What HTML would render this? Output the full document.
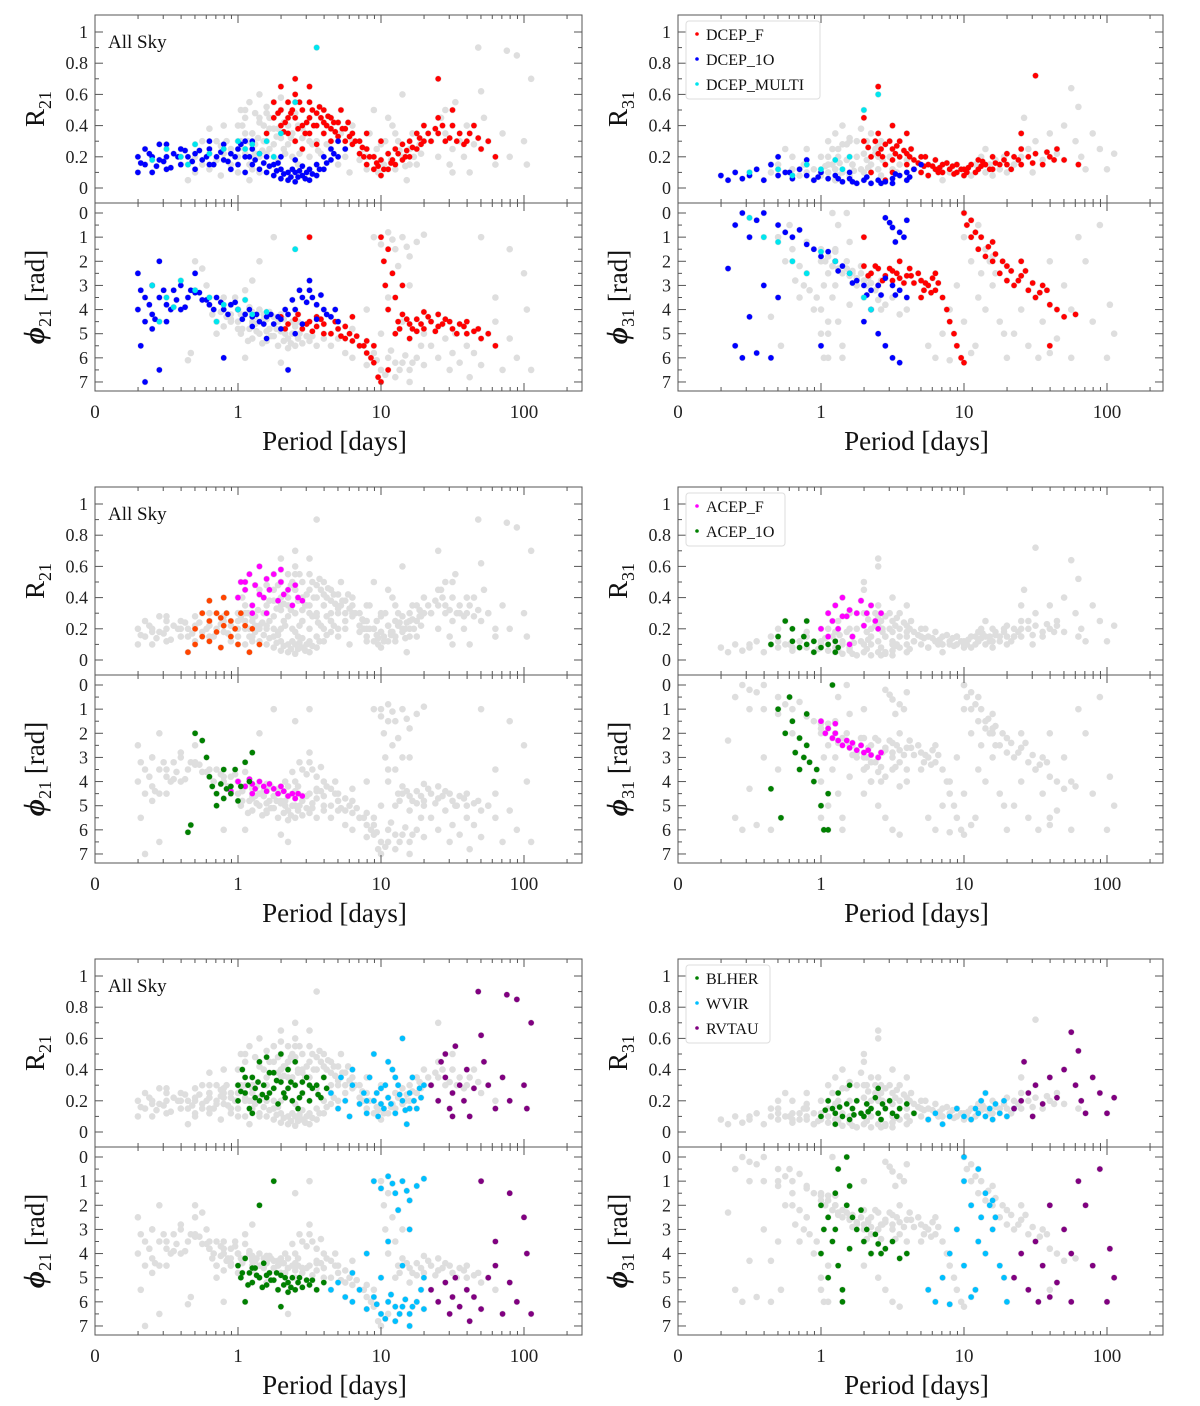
<!DOCTYPE html>
<html><head><meta charset="utf-8"><style>
html,body{margin:0;padding:0;background:#fff}
svg{display:block;font-family:"Liberation Serif","DejaVu Serif",serif}
</style></head><body>
<svg id="chart" width="1200" height="1406" viewBox="0 0 1200 1406" xmlns="http://www.w3.org/2000/svg"></svg>
<script>
// ===== data: [log10(Period), value] =====
const dcepF_R21=[[0.25,.45],[0.3,.5],[0.3,.4],[0.35,.55],[0.35,.35],[0.4,.6],[0.4,.45],[0.4,.3],[0.45,.5],[0.45,.4],[0.5,.55],[0.5,.45],[0.5,.35],[0.55,.48],[0.55,.4],[0.6,.5],[0.6,.42],[0.6,.35],[0.65,.45],[0.65,.38],[0.7,.42],[0.7,.33],[0.72,.5],[0.75,.38],[0.75,.3],[0.8,.35],[0.8,.28],[0.85,.3],[0.85,.22],[0.9,.25],[0.9,.15],[0.95,.2],[0.95,.12],[1.0,.18],[1.0,.08],[1.05,.22],[1.05,.12],[1.1,.25],[1.1,.15],[1.15,.28],[1.15,.18],[1.2,.3],[1.2,.2],[1.25,.35],[1.25,.25],[1.3,.4],[1.3,.3],[1.35,.3],[1.4,.45],[1.4,.35],[1.45,.3],[1.5,.4],[1.5,.5],[1.55,.35],[1.6,.3],[1.65,.4],[1.7,.25],[1.8,.2],[0.4,.7],[0.3,.65],[0.5,.65],[0.2,.35],[0.25,.55],[0.45,.25],[0.55,.28],[0.65,.3],[0.9,.35],[1.0,.3],[1.4,.7],[0.35,.45],[0.42,.38],[0.48,.42],[0.58,.45],[0.62,.4],[0.68,.36],[0.52,.5],[0.38,.5],[0.33,.42],[0.78,.33],[0.88,.2],[0.98,.14],[1.08,.18],[1.18,.24],[1.28,.28],[1.38,.38],[1.48,.32],[1.58,.28],[1.62,.35],[1.75,.3],[0.28,.48],[0.32,.36],[0.37,.48],[0.43,.55],[0.47,.35],[0.53,.4],[0.57,.52],[0.63,.46],[0.67,.42],[0.73,.38],[0.77,.42],[0.82,.3],[0.87,.26],[0.92,.2],[0.97,.16],[1.02,.12],[1.07,.16],[1.12,.22],[1.17,.2],[1.22,.26],[1.27,.32],[1.33,.35],[1.43,.4],[1.53,.3],[1.68,.32]];
const dcep1O_R21=[[-0.7,.2],[-0.7,.1],[-0.65,.25],[-0.65,.15],[-0.6,.2],[-0.6,.1],[-0.55,.28],[-0.55,.18],[-0.5,.2],[-0.5,.12],[-0.45,.22],[-0.4,.15],[-0.4,.25],[-0.35,.2],[-0.3,.12],[-0.3,.22],[-0.25,.18],[-0.2,.25],[-0.2,.15],[-0.15,.2],[-0.1,.28],[-0.1,.18],[-0.05,.22],[0,.25],[0,.15],[0.05,.3],[0.05,.2],[0.1,.25],[0.1,.15],[0.15,.22],[0.15,.12],[0.2,.2],[0.2,.1],[0.25,.15],[0.25,.08],[0.3,.12],[0.3,.06],[0.35,.1],[0.35,.05],[0.4,.1],[0.4,.04],[0.45,.08],[0.45,.14],[0.5,.12],[0.5,.05],[0.55,.15],[0.55,.08],[0.6,.2],[0.6,.12],[0.65,.25],[0.65,.18],[0.7,.3],[0.7,.2],[0.75,.25],[-0.5,.28],[-0.2,.3],[0.05,.1],[0.3,.2],[0.4,.18],[-0.05,.12],[0.1,.3],[0.42,.07],[0.38,.12],[0.48,.1],[0.28,.16],[-0.68,.16],[-0.62,.22],[-0.57,.14],[-0.52,.17],[-0.47,.13],[-0.42,.2],[-0.37,.24],[-0.32,.17],[-0.27,.24],[-0.22,.2],[-0.17,.15],[-0.12,.23],[-0.07,.17],[-0.02,.2],[0.02,.28],[0.08,.2],[0.12,.18],[0.18,.16],[0.22,.14],[0.27,.11],[0.32,.09],[0.37,.07],[0.43,.11],[0.47,.06],[0.52,.09],[0.57,.12],[0.62,.16],[0.67,.22]];
const multi_R21=[[-0.5,.25],[-0.4,.2],[-0.3,.28],[-0.2,.22],[-0.1,.25],[0,.3],[0.05,.25],[0.1,.28],[0.15,.22],[0.2,.3],[-0.6,.18],[0.25,.2],[0.4,.55],[0.55,.9],[0.3,.35],[-0.35,.15]];
const dcepF_R31=[[0.3,.3],[0.35,.2],[0.4,.35],[0.4,.22],[0.45,.28],[0.45,.15],[0.5,.25],[0.5,.18],[0.55,.3],[0.55,.2],[0.6,.22],[0.6,.15],[0.65,.18],[0.65,.12],[0.7,.2],[0.7,.1],[0.75,.15],[0.75,.08],[0.8,.12],[0.8,.18],[0.85,.1],[0.85,.15],[0.9,.12],[0.95,.1],[0.95,.15],[1.0,.12],[1.0,.08],[1.05,.15],[1.1,.12],[1.1,.18],[1.15,.15],[1.2,.2],[1.2,.12],[1.25,.15],[1.3,.22],[1.3,.15],[1.35,.2],[1.4,.25],[1.4,.15],[1.45,.2],[1.5,.22],[1.55,.15],[1.6,.2],[1.65,.25],[1.7,.18],[1.8,.15],[0.3,.45],[0.5,.4],[0.4,.65],[0.6,.35],[1.4,.35],[1.5,.72],[0.5,.1],[0.35,.1],[0.45,.05],[0.42,.25],[0.52,.22],[0.62,.2],[0.72,.14],[0.82,.1],[0.92,.14],[1.02,.1],[1.12,.14],[1.22,.16],[0.33,.26],[0.38,.3],[0.43,.2],[0.48,.3],[0.53,.27],[0.58,.24],[0.63,.25],[0.68,.16],[0.73,.2],[0.78,.14],[0.83,.13],[0.88,.16],[0.93,.09],[0.98,.12],[1.03,.13],[1.08,.1],[1.13,.17],[1.18,.12],[1.28,.18],[1.33,.12],[1.38,.18],[1.48,.16],[1.58,.23],[1.63,.18]];
const dcep1O_R31=[[-0.7,.08],[-0.65,.05],[-0.6,.1],[-0.55,.06],[-0.5,.08],[-0.45,.12],[-0.4,.05],[-0.35,.15],[-0.3,.08],[-0.25,.1],[-0.2,.06],[-0.15,.12],[-0.1,.08],[-0.05,.05],[0,.1],[0.05,.06],[0.1,.08],[0.15,.04],[0.2,.06],[0.25,.03],[0.3,.05],[0.35,.03],[0.4,.05],[0.45,.04],[0.5,.06],[0.55,.08],[0.6,.1],[0.65,.12],[0.7,.15],[-0.3,.2],[-0.1,.18],[0.5,.03],[0.2,.1],[0.6,.05],[0.12,.06],[0.22,.04],[0.32,.07],[0.42,.03],[0.52,.09],[0.62,.07],[-0.02,.07],[-0.22,.1]];
const multi_R31=[[-0.5,.1],[-0.3,.12],[-0.1,.15],[0,.12],[0.1,.18],[0.2,.2],[0.3,.5],[0.4,.6],[-0.2,.08],[0.15,.12]];
const dcepF_P21=[[0.3,4.3],[0.35,4.6],[0.4,4.4],[0.45,4.8],[0.5,4.5],[0.55,4.7],[0.6,4.6],[0.65,5],[0.7,4.8],[0.75,5.2],[0.8,5.3],[0.85,5.5],[0.9,5.8],[0.95,6.2],[0.98,6.8],[1.0,7],[1.0,1],[1.02,2],[1.03,3],[1.05,1.5],[1.05,4],[1.08,2.5],[1.1,3.5],[1.1,5],[1.12,4.5],[1.15,4.2],[1.2,4.6],[1.25,4.4],[1.3,4.8],[1.35,4.5],[1.4,4.7],[1.45,4.4],[1.5,4.8],[1.55,4.6],[1.6,5],[1.65,4.9],[1.7,5.2],[1.8,5.5],[0.5,1],[0.8,4.3],[1.2,5.2],[1.3,4.1],[0.95,5.5],[1.05,6.5],[1.15,3],[0.55,4.3],[0.6,5],[0.75,4.7],[0.9,5.3],[1.25,4.9],[1.4,4.2],[1.6,4.5],[0.33,4.8],[0.42,4.2],[0.48,4.6],[0.52,4.9],[0.58,4.4],[0.68,4.5],[0.72,5.1],[0.78,5],[0.83,5.1],[0.88,5.5],[0.93,6],[1.13,4.8],[1.18,4.4],[1.22,4.8],[1.28,4.6],[1.33,4.3],[1.38,4.9],[1.43,4.6],[1.48,4.5],[1.53,5],[1.58,4.7],[1.68,4.8],[1.75,5]];
const dcep1O_P21=[[-0.7,4],[-0.7,2.5],[-0.68,5.5],[-0.65,3.5],[-0.65,4.5],[-0.6,3],[-0.6,4.2],[-0.55,3.5],[-0.55,2],[-0.5,3.8],[-0.5,4.5],[-0.45,3.2],[-0.4,3],[-0.4,4],[-0.35,3.5],[-0.3,3.3],[-0.3,2.5],[-0.25,3.6],[-0.2,3.8],[-0.15,3.5],[-0.1,4],[-0.05,3.8],[0,4],[0.05,4.2],[0.1,4.3],[0.15,4.5],[0.2,4.3],[0.25,4.6],[0.3,4.4],[0.35,4.2],[0.4,4],[0.45,3.5],[0.5,3.2],[0.55,3.8],[0.5,2.8],[0.6,4],[0.65,4.3],[0.7,4.5],[0.4,5],[0.2,5.2],[-0.1,6],[0.35,6.5],[-0.65,7],[-0.55,6.5],[0.45,4.6],[0.3,4.8],[0.1,4.7],[0.55,4.4],[-0.6,4.8],[-0.68,3.2],[-0.62,3.8],[-0.58,4.4],[-0.52,3.2],[-0.47,4],[-0.43,3.6],[-0.37,3.9],[-0.33,3.2],[-0.27,3.3],[-0.22,3.6],[-0.17,4],[-0.12,3.7],[-0.07,4.2],[-0.02,3.7],[0.03,4.4],[0.08,4],[0.13,4.2],[0.18,4.6],[0.23,4.2],[0.28,4.3],[0.33,4],[0.38,3.6],[0.43,3.2],[0.48,3.7],[0.52,3.5],[0.58,3.4],[0.62,4.2],[0.68,4]];
const multi_P21=[[-0.6,3],[-0.5,3.5],[-0.4,2.8],[-0.3,3.2],[-0.2,3.5],[-0.1,3.8],[0,4],[0.1,4.2],[0.2,4.1],[-0.55,4.5],[0.4,1.5],[-0.45,3.9],[-0.15,4.5],[0.05,3.6]];
const dcepF_P31=[[0.3,2.2],[0.35,2.5],[0.4,2.3],[0.45,2.6],[0.5,2.4],[0.55,2.7],[0.6,2.6],[0.65,2.9],[0.7,2.8],[0.75,3],[0.8,3.2],[0.85,3.5],[0.88,4],[0.9,4.5],[0.93,5],[0.95,5.5],[0.98,6],[1.0,6.2],[1.0,0],[1.02,0.5],[1.05,0.3],[1.05,1],[1.1,1.5],[1.12,1],[1.15,1.8],[1.2,2],[1.25,2.5],[1.3,2.2],[1.3,2.8],[1.35,3],[1.4,2.6],[1.45,3.2],[1.5,3.5],[1.55,3],[1.6,3.8],[1.65,4],[1.7,4.3],[1.78,4.2],[0.3,1],[0.55,2],[0.7,3.5],[0.8,2.5],[1.2,1.2],[1.4,2],[1.6,5.5],[0.4,3],[0.5,2.8],[0.62,2.3],[0.72,3.2],[0.78,2.7],[0.33,2.6],[0.38,2.2],[0.43,2.8],[0.48,2.3],[0.53,2.5],[0.58,2.9],[0.63,2.6],[0.68,2.5],[0.73,2.9],[0.77,3.3],[0.82,2.9],[1.08,0.8],[1.17,1.4],[1.22,1.7],[1.27,2],[1.33,2.4],[1.38,2.8],[1.43,2.4],[1.48,2.9],[1.53,3.3],[1.58,3.2]];
const dcep1O_P31=[[-0.65,2.3],[-0.6,0.5],[-0.55,0],[-0.5,1],[-0.45,0.3],[-0.4,0],[-0.6,5.5],[-0.55,6],[-0.45,5.8],[-0.35,6],[-0.5,4.3],[-0.3,0.5],[-0.25,0.8],[-0.2,1],[-0.15,0.7],[-0.1,1.3],[-0.05,1.5],[0,1.8],[0.05,1.6],[0.1,2],[0.15,2.2],[0.2,2.5],[0.25,2.8],[0.3,3],[0.35,3.2],[0.4,3],[0.45,2.7],[0.5,3],[0.55,3.2],[0.6,3.5],[0.45,0.2],[0.5,0.6],[0.55,0.8],[0.6,0.3],[0.52,1.2],[0.3,4.5],[0.4,5],[0.45,5.5],[0.5,6],[0.55,6.2],[0.35,4],[-0.3,3.5],[0,5.5],[-0.4,3],[0.48,0.4],[0.58,1],[0.12,2.4],[0.22,2.9],[0.32,3.4],[0.42,3.4],[0.52,3.4]];
const multi_P31=[[-0.4,1],[-0.3,1.2],[-0.2,2],[-0.1,2.5],[0,1.6],[0.1,2],[0.2,2.5],[-0.5,0.2],[0.35,4],[0.3,3.5]];
const acepF_R21=[[0,.4],[0.02,.5],[0.05,.45],[0.08,.55],[0.1,.35],[0.12,.48],[0.15,.6],[0.18,.4],[0.2,.52],[0.22,.45],[0.25,.55],[0.28,.38],[0.3,.5],[0.32,.42],[0.35,.45],[0.38,.35],[0.4,.48],[0.42,.4],[0.45,.38],[0.1,.3],[0.05,.5],[0.2,.3],[0.3,.58],[0.15,.42]];
const acep1O_R21=[[-0.35,.05],[-0.3,.2],[-0.3,.1],[-0.25,.3],[-0.25,.15],[-0.2,.38],[-0.2,.25],[-0.15,.18],[-0.15,.3],[-0.12,.08],[-0.1,.22],[-0.08,.3],[-0.05,.15],[-0.05,.25],[-0.02,.2],[0,.1],[0.02,.3],[0.05,.22],[0.08,.05],[0.1,.2],[0.15,.1],[-0.1,.4],[-0.2,.12],[-0.12,.27]];
const acepF_R31=[[0,.2],[0.05,.3],[0.08,.25],[0.1,.35],[0.12,.2],[0.15,.4],[0.18,.28],[0.2,.32],[0.22,.15],[0.25,.3],[0.28,.38],[0.3,.22],[0.32,.3],[0.35,.35],[0.38,.25],[0.4,.2],[0.42,.3],[0.2,.1],[0.05,.15],[0.15,.28]];
const acep1O_R31=[[-0.35,.1],[-0.3,.15],[-0.25,.25],[-0.2,.12],[-0.2,.2],[-0.15,.08],[-0.12,.15],[-0.1,.1],[-0.05,.05],[-0.05,.12],[0,.08],[0.05,.1],[0.1,.05],[0.1,.12],[-0.1,.25],[0.12,.08]];
const acepF_P21=[[0,4],[0.05,4.2],[0.08,3.9],[0.1,4.1],[0.12,4.3],[0.15,4],[0.18,4.2],[0.2,4.4],[0.22,4.1],[0.25,4.3],[0.28,4.5],[0.3,4.2],[0.32,4.4],[0.35,4.6],[0.38,4.5],[0.4,4.7],[0.42,4.5],[0.45,4.6],[-0.05,4.4],[0.1,4.5]];
const acep1O_P21=[[-0.35,6.1],[-0.33,5.8],[-0.3,2],[-0.25,2.3],[-0.22,3],[-0.2,3.8],[-0.18,4.2],[-0.15,4.5],[-0.12,4.1],[-0.1,4.7],[-0.08,4.3],[-0.05,4.5],[-0.02,3.5],[0,4.8],[0.02,4.2],[0.05,3.2],[0.08,4],[0.1,2.8],[-0.1,3.5],[-0.15,5],[-0.05,4.2]];
const acepF_P31=[[0,1.5],[0.03,2],[0.05,1.8],[0.08,2.2],[0.1,2],[0.12,2.3],[0.15,2.5],[0.18,2.3],[0.2,2.6],[0.22,2.4],[0.25,2.7],[0.28,2.5],[0.3,2.8],[0.33,2.7],[0.35,2.9],[0.4,3],[0.42,2.8],[0.1,1.6]];
const acep1O_P31=[[-0.35,4.3],[-0.3,1],[-0.28,5.5],[-0.25,2],[-0.22,0.5],[-0.2,1.5],[-0.18,2.8],[-0.15,3.5],[-0.12,3],[-0.1,2.5],[-0.08,3.2],[-0.05,4],[-0.03,3.5],[0,5],[0.02,6],[0.05,4.5],[0.08,0],[-0.1,1.2],[-0.15,2.2],[0.05,6]];
const blher_R21=[[0,.2],[0,.3],[0.03,.4],[0.05,.25],[0.08,.15],[0.1,.35],[0.12,.28],[0.15,.2],[0.15,.45],[0.18,.3],[0.2,.22],[0.22,.38],[0.25,.28],[0.28,.18],[0.3,.32],[0.32,.25],[0.35,.4],[0.38,.2],[0.4,.3],[0.42,.15],[0.45,.25],[0.48,.35],[0.5,.2],[0.52,.28],[0.55,.3],[0.58,.22],[0.6,.35],[0.3,.5],[0.1,.12],[0.2,.48],[0.4,.45],[0.05,.35],[0.12,.22],[0.22,.25],[0.35,.28],[0.45,.32],[0.25,.38],[0.02,.26],[0.07,.3],[0.14,.32],[0.17,.24],[0.27,.33],[0.33,.22],[0.37,.32],[0.43,.22],[0.5,.3],[0.56,.24],[0.62,.28]];
const wvir_R21=[[0.65,.25],[0.7,.15],[0.72,.35],[0.75,.2],[0.78,.1],[0.8,.3],[0.85,.18],[0.88,.25],[0.9,.12],[0.92,.35],[0.95,.2],[0.98,.1],[1.0,.28],[1.02,.15],[1.05,.22],[1.08,.4],[1.1,.12],[1.12,.3],[1.15,.2],[1.18,.05],[1.2,.25],[1.22,.35],[1.25,.15],[1.28,.22],[1.3,.3],[1.05,.45],[0.95,.5],[1.15,.6],[0.8,.4],[1.1,.35],[0.9,.2],[1.0,.18],[1.2,.15],[0.97,.25],[1.03,.3],[1.07,.18],[1.13,.24],[1.17,.14],[1.23,.2],[1.27,.28]];
const rvtau_R21=[[1.35,.3],[1.4,.2],[1.42,.45],[1.45,.35],[1.48,.15],[1.5,.25],[1.52,.55],[1.55,.3],[1.58,.2],[1.6,.4],[1.62,.1],[1.65,.28],[1.7,.62],[1.75,.3],[1.8,.15],[1.85,.35],[1.9,.2],[1.95,.85],[2.0,.3],[2.02,.15],[2.05,.7],[1.68,.9],[1.88,.88],[1.72,.45],[1.5,.1],[1.45,.5]];
const blher_R31=[[0,.1],[0.05,.2],[0.08,.15],[0.1,.12],[0.12,.25],[0.15,.1],[0.18,.18],[0.2,.08],[0.22,.15],[0.25,.2],[0.28,.12],[0.3,.1],[0.32,.18],[0.35,.15],[0.38,.22],[0.4,.12],[0.42,.08],[0.45,.15],[0.48,.2],[0.5,.12],[0.55,.15],[0.6,.18],[0.65,.12],[0.2,.3],[0.4,.28],[0.1,.05],[0.03,.14],[0.13,.16],[0.23,.11],[0.33,.13],[0.43,.18],[0.53,.1]];
const wvir_R31=[[0.75,.08],[0.8,.12],[0.85,.05],[0.9,.1],[0.95,.15],[1.0,.1],[1.05,.08],[1.08,.15],[1.1,.12],[1.12,.2],[1.15,.1],[1.18,.15],[1.2,.08],[1.22,.18],[1.25,.12],[1.28,.2],[1.3,.1],[1.35,.15],[1.15,.25]];
const rvtau_R31=[[1.35,.15],[1.4,.2],[1.42,.45],[1.45,.25],[1.5,.3],[1.55,.18],[1.6,.35],[1.65,.22],[1.7,.4],[1.75,.64],[1.78,.3],[1.82,.2],[1.85,.12],[1.9,.35],[1.95,.25],[2.0,.12],[2.05,.22],[1.8,.52],[1.48,.1]];
const blher_P21=[[0,4.5],[0.02,5],[0.05,4.2],[0.08,4.8],[0.1,5.2],[0.12,4.6],[0.15,5],[0.18,4.4],[0.2,5.3],[0.22,4.8],[0.25,5.1],[0.28,5.5],[0.3,4.9],[0.32,5.3],[0.35,5.2],[0.38,5],[0.4,5.5],[0.42,5.2],[0.45,5.4],[0.48,5.1],[0.5,5.3],[0.55,5.5],[0.6,5.2],[0.15,2],[0.25,1],[0.05,6],[0.3,6.2],[0.1,4.6],[0.2,4.9],[0.35,5.6],[0.03,4.8],[0.07,5.3],[0.13,4.9],[0.17,5.4],[0.23,5.1],[0.27,4.8],[0.33,5],[0.37,5.4],[0.43,5],[0.52,5.1]];
const wvir_P21=[[0.65,5.5],[0.7,5.2],[0.75,5.8],[0.8,6],[0.85,5.5],[0.9,6.3],[0.95,5.8],[1.0,6.5],[1.05,6],[1.1,6.8],[1.15,6.2],[1.2,6.5],[1.25,6],[1.28,5.5],[1.3,6.3],[0.95,1],[1.0,1.3],[1.05,0.8],[1.1,1.5],[1.15,1],[1.2,1.8],[1.25,1.2],[1.3,0.9],[1.12,2.2],[1.05,3.5],[1.15,4.5],[0.9,4],[1.2,3],[1.3,5],[0.8,4.8],[1.0,5],[1.1,6.2],[1.2,7],[0.97,6.1],[1.03,6.7],[1.07,5.7],[1.13,6.5],[1.17,5.9],[1.22,6.2],[1.08,1.1],[1.18,1.4]];
const rvtau_P21=[[1.35,5.5],[1.4,6],[1.45,5.2],[1.48,6.5],[1.5,5.8],[1.52,5],[1.55,6.2],[1.6,5.5],[1.62,6.8],[1.65,5.8],[1.7,6.3],[1.75,5],[1.8,4.5],[1.85,6.5],[1.9,5.2],[1.95,6],[2.0,2.5],[2.02,4],[1.7,1],[1.9,1.5],[2.05,6.5],[1.8,3.5]];
const blher_P31=[[0,2],[0,4],[0.02,3],[0.05,2.5],[0.05,5],[0.08,3.5],[0.1,1.5],[0.12,4.5],[0.15,5.5],[0.15,6],[0.18,0],[0.18,2],[0.2,1.2],[0.22,2.5],[0.25,3],[0.28,2.2],[0.3,3.5],[0.32,3],[0.35,4],[0.38,3.2],[0.4,3.6],[0.42,4],[0.45,3.8],[0.5,3.5],[0.55,4.2],[0.6,4],[0.1,3],[0.2,3.8],[0.12,0.5]];
const wvir_P31=[[0.75,5.5],[0.8,6],[0.85,5],[0.9,4],[0.95,3],[1.0,1],[1.0,4.5],[1.05,2],[1.08,5.5],[1.1,3.5],[1.12,2.5],[1.15,1.5],[1.15,4],[1.18,2],[1.2,3],[1.22,2.5],[1.25,4.5],[1.28,5],[1.3,6],[1.0,0],[1.1,0.5],[0.9,6.1],[1.2,1.8],[1.05,5.8]];
const rvtau_P31=[[1.35,5],[1.4,4],[1.45,5.5],[1.5,3.5],[1.52,6],[1.55,4.5],[1.6,5.8],[1.65,5.2],[1.7,3],[1.75,4],[1.8,1],[1.85,2],[1.9,4.5],[1.95,0.5],[2.0,6],[2.02,3.8],[2.05,5],[1.6,2],[1.75,6]];
const xTickValues=[0.1,1,10,100];
const xTickLabels=["0","1","10","100"];
const rTicks=[0,0.2,0.4,0.6,0.8,1];
const phiTicks=[0,1,2,3,4,5,6,7];

const classes={
 dcepF:{R21:dcepF_R21,P21:dcepF_P21,R31:dcepF_R31,P31:dcepF_P31},
 dcep1O:{R21:dcep1O_R21,P21:dcep1O_P21,R31:dcep1O_R31,P31:dcep1O_P31},
 multi:{R21:multi_R21,P21:multi_P21,R31:multi_R31,P31:multi_P31},
 acepF:{R21:acepF_R21,P21:acepF_P21,R31:acepF_R31,P31:acepF_P31},
 acep1O:{R21:acep1O_R21,P21:acep1O_P21,R31:acep1O_R31,P31:acep1O_P31},
 blher:{R21:blher_R21,P21:blher_P21,R31:blher_R31,P31:blher_P31},
 wvir:{R21:wvir_R21,P21:wvir_P21,R31:wvir_R31,P31:wvir_P31},
 rvtau:{R21:rvtau_R21,P21:rvtau_P21,R31:rvtau_R31,P31:rvtau_P31}
};
const rows=[
 {hl:[['dcepF','#ff0000','#ff0000'],['dcep1O','#0000ff','#0000ff'],['multi','#00e5ee','#00e5ee']],legend:[['DCEP_F','#ff0000'],['DCEP_1O','#0000ff'],['DCEP_MULTI','#00e5ee']],lw:134},
 {hl:[['acepF','#ff00ff','#ff00ff'],['acep1O','#ff4500','#008000']],legend:[['ACEP_F','#ff00ff'],['ACEP_1O','#008000']],lw:99},
 {hl:[['blher','#008000','#008000'],['wvir','#00bfff','#00bfff'],['rvtau','#800080','#800080']],legend:[['BLHER','#008000'],['WVIR','#00bfff'],['RVTAU','#800080']],lw:84}
];
const NS='http://www.w3.org/2000/svg';
const svg=document.getElementById('chart');
function mk(tag,attrs,parent,text){const e=document.createElementNS(NS,tag);for(const k in attrs)e.setAttribute(k,attrs[k]);if(text!==undefined)e.textContent=text;(parent||svg).appendChild(e);return e;}
function xScale(c,P){return (c?821:238)+143*Math.log10(P);}
function xScaleLog(c,lp){return (c?821:238)+143*lp;}
function rScale(base,v){return base+173-156*v;}
function pScale(base,v){return base+10+24.14*v;}

rows.forEach((row,r)=>{
 [0,1].forEach(c=>{
  const x0=c?678:95,x1=c?1163:582;
  const yt=15+472*r,ym=203+472*r,yb=391+472*r;
  const which=c?'31':'21';
  const g=mk('g',{});
  
  
  const cid=`clip${r}${c}`;
  const defs=mk('defs',{},g);
  const cp=mk('clipPath',{id:cid},defs);
  mk('rect',{x:x0,y:yt,width:x1-x0,height:yb-yt},cp);
  [['R',yt,ym],['P',ym,yb]].forEach(([kind,ya,yz])=>{
   const key=kind+which;
   const sub=mk('g',{'clip-path':`url(#${cid})`},g);
   
   
   const yf=kind==='R'?(v=>rScale(yt,v)):(v=>pScale(ym,v));
   for(const k in classes){
    classes[k][key].forEach(p=>{
     const d=mk('circle',{cx:xScaleLog(c,p[0]),cy:yf(p[1]),r:3.3,fill:'#dedede'},sub);
     
     
    });
   }
   row.hl.forEach(h=>{
    const col=(kind==='R'&&c===0)?h[1]:h[2];
    classes[h[0]][key].forEach(p=>{
     const d=mk('circle',{cx:xScaleLog(c,p[0]),cy:yf(p[1]),r:2.8,fill:col},sub);
     
     
    });
   });
   const ticks=kind==='R'?rTicks:phiTicks;
   ticks.forEach(t=>{
    const y=yf(t);
    mk('line',{x1:x0,x2:x0+8,y1:y,y2:y,stroke:'#555','stroke-width':1},g);
    mk('line',{x1:x1-8,x2:x1,y1:y,y2:y,stroke:'#555','stroke-width':1},g);
    const tl=mk('text',{x:x0-7,y:y+6,'font-size':18,'text-anchor':'end',fill:'#222'},g,String(t));
    
    
   });
   const minor=kind==='R'?[0.1,0.3,0.5,0.7,0.9]:[0.5,1.5,2.5,3.5,4.5,5.5,6.5];
   minor.forEach(t=>{const y=yf(t);
    mk('line',{x1:x0,x2:x0+4,y1:y,y2:y,stroke:'#555'},g);
    mk('line',{x1:x1-4,x2:x1,y1:y,y2:y,stroke:'#555'},g);});
   for(let dec=-1;dec<=2;dec++){
    for(let m=1;m<10;m++){
     const x=xScaleLog(c,dec+Math.log10(m));
     if(x>x1)continue;
     const L=m===1?8:4;
     mk('line',{x1:x,x2:x,y1:yz,y2:yz-L,stroke:'#555'},g);
     mk('line',{x1:x,x2:x,y1:ya,y2:ya+L,stroke:'#555'},g);
    }
   }
   mk('rect',{x:x0,y:ya,width:x1-x0,height:yz-ya,fill:'none',stroke:'#555','stroke-width':1},g);
   const cy=(ya+yz)/2, lx=c?627:44;
   const yl=mk('text',{transform:`translate(${lx},${cy}) rotate(-90)`,'text-anchor':'middle','font-size':27,fill:'#111'},g);
   
   
   if(kind==='R'){
    mk('tspan',{},yl,'R');mk('tspan',{'font-size':18,dy:7},yl,which);
   }else{
    mk('tspan',{'font-weight':'bold','font-style':'italic','font-size':30},yl,'ϕ');
    mk('tspan',{'font-size':18,dy:7},yl,which);
    mk('tspan',{dy:-7},yl,' [rad]');
   }
  });
  xTickValues.forEach((v,i)=>{
   const t=mk('text',{x:xScale(c,v),y:yb+27,'font-size':19,'text-anchor':'middle',fill:'#222'},g,xTickLabels[i]);
   
   
  });
  const xt=mk('text',{x:(x0+x1)/2-4,y:yb+59,'font-size':27,'text-anchor':'middle',fill:'#111'},g,'Period [days]');
  
  
  if(c===0){
   const as=mk('text',{x:108,y:yt+33,'font-size':19,fill:'#111'},g,'All Sky');
   
   
  }else{
   const lg=mk('g',{},g);
   
   
   mk('rect',{x:686,y:yt+6,width:row.lw,height:row.legend.length*25+3,fill:'#fff',stroke:'#ddd',rx:3},lg);
   row.legend.forEach((e,i)=>{
    const yy=yt+19+25*i;
    const it=mk('g',{},lg);
    
    
    mk('circle',{cx:697,cy:yy,r:1.8,fill:e[1]},it);
    mk('text',{x:706,y:yy+6,'font-size':16,fill:'#111'},it,e[0]);
   });
  }
 });
});
</script>
</body></html>
